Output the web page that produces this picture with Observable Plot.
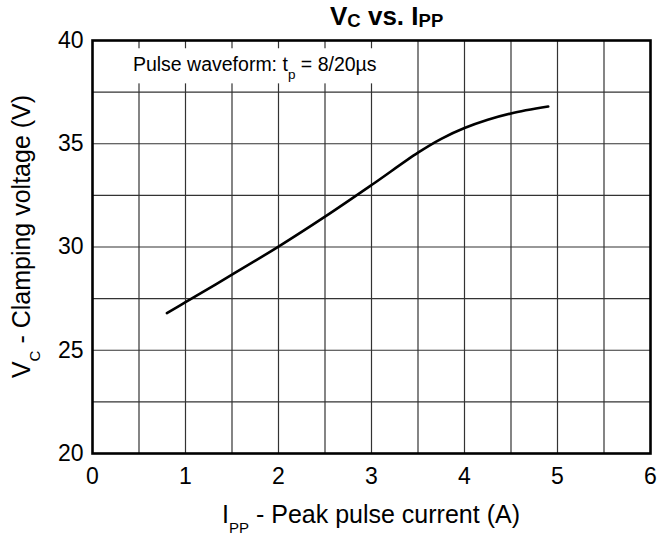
<!DOCTYPE html>
<html>
<head>
<meta charset="utf-8">
<script src="https://cdn.jsdelivr.net/npm/d3@7"></script>
<script src="https://cdn.jsdelivr.net/npm/@observablehq/plot@0.6"></script>
<style>
  html, body { margin: 0; padding: 0; background: #fff; }
  #chart svg { display: block; }
</style>
</head>
<body>
<div id="chart"></div>
<script>
// ---- data ----
const currentA = [0.8, 1.0, 1.5, 2.0, 2.5, 3.0, 3.5, 3.75, 4.0, 4.25, 4.5, 4.9];
const voltageV = [26.8, 27.33, 28.66, 30.02, 31.47, 33.0, 34.57, 35.24, 35.76, 36.16, 36.47, 36.8];

const xTicks = [0, 1, 2, 3, 4, 5, 6];
const yTicks = [20, 25, 30, 35, 40];
const xGrid = [0.5, 1, 1.5, 2, 2.5, 3, 3.5, 4, 4.5, 5, 5.5];
const yGrid = [22.5, 25, 27.5, 30, 32.5, 35, 37.5];

// annotation box & text anchor (data units)
const noteBoxX = [0, 3.47];
const noteBoxY = [37.9, 39.6];
const noteAnchor = [0.44, 38.52];

const data = currentA.map((x, i) => ({x, y: voltageV[i]}));
const FONT = "'Liberation Sans', Arial, Helvetica, sans-serif";

const chart = Plot.plot({
  width: 659,
  height: 536,
  marginLeft: 92,
  marginRight: 9,
  marginTop: 40,
  marginBottom: 83,
  style: {fontFamily: FONT, background: "#fff", color: "#000"},
  x: {domain: [0, 6]},
  y: {domain: [20, 40]},
  marks: [
    Plot.gridX(xGrid, {stroke: "#333", strokeOpacity: 1, strokeWidth: 1.2}),
    Plot.gridY(yGrid, {stroke: "#333", strokeOpacity: 1, strokeWidth: 1.2}),
    Plot.rect([{x1: noteBoxX[0], x2: noteBoxX[1], y1: noteBoxY[0], y2: noteBoxY[1]}],
      {x1: "x1", x2: "x2", y1: "y1", y2: "y2", fill: "#fff"}),
    Plot.line(data, {x: "x", y: "y", curve: "catmull-rom", stroke: "#000", strokeWidth: 2.6}),
    Plot.frame({stroke: "#000", strokeWidth: 2.6}),
    Plot.axisX(xTicks, {tickSize: 0, tickPadding: 14, fontSize: 23, label: null}),
    Plot.axisY(yTicks, {tickSize: 0, tickPadding: 9, fontSize: 23, label: null})
  ]
});

document.getElementById("chart").appendChild(chart);

const svg = d3.select(chart);
const sx = chart.scale("x"), sy = chart.scale("y");
const left = sx.apply(0), right = sx.apply(6);

function addText(x, y, parts, opts = {}) {
  const t = svg.append("text")
    .attr("x", x).attr("y", y)
    .attr("font-family", FONT)
    .attr("font-size", opts.size)
    .attr("font-weight", opts.weight || "normal")
    .attr("text-anchor", opts.anchor || "start")
    .attr("fill", "#000");
  if (opts.transform) t.attr("transform", opts.transform);
  parts.forEach(p => {
    const ts = t.append("tspan").text(p.t);
    if (p.sub) ts.attr("font-size", p.sub).attr("dy", p.dy);
    if (p.back) ts.attr("dy", p.back);
  });
  return t;
}

// title
addText(330, 25, [
  {t: "V"}, {t: "C", sub: 18.5, dy: 2},
  {t: " vs. I", back: -2}, {t: "PP", sub: 18.5, dy: 2}
], {size: 26, weight: "bold"});

// annotation
addText(sx.apply(noteAnchor[0]), sy.apply(noteAnchor[1]), [
  {t: "Pulse waveform: t"}, {t: "p", sub: 13.5, dy: 8},
  {t: " = 8/20µs", back: -8}
], {size: 19.5});

// x label
addText((left + right) / 2, 523, [
  {t: "I"}, {t: "PP", sub: 15, dy: 10},
  {t: " - Peak pulse current (A)", back: -10}
], {size: 25, anchor: "middle"});

// y label
const yMid = (sy.apply(20) + sy.apply(40)) / 2 - 10;
addText(0, 0, [
  {t: "V"}, {t: "C", sub: 15, dy: 10},
  {t: " - Clamping voltage (V)", back: -10}
], {size: 25, anchor: "middle", transform: `translate(30,${yMid}) rotate(-90)`});
</script>
</body>
</html>
